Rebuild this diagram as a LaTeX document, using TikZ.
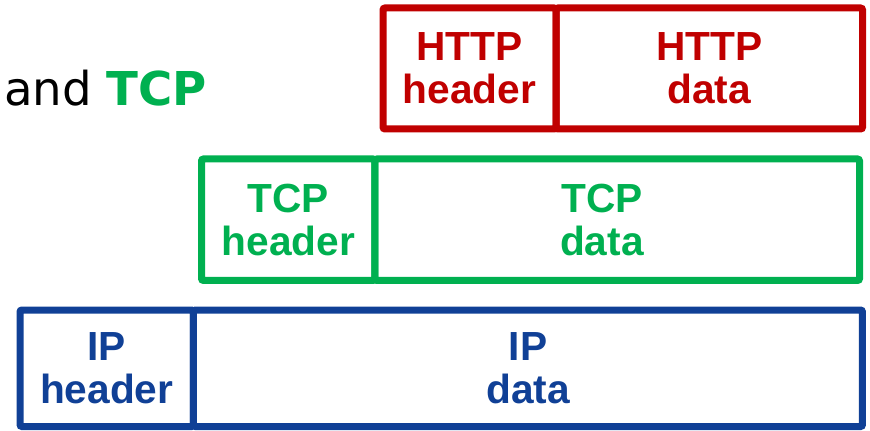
\documentclass[tikz,border=0pt]{standalone}
\usepackage{fontspec}
\setmainfont{Liberation Sans}
\newfontfamily\titlefont{DejaVu Sans}
\usetikzlibrary{positioning}
\definecolor{httpred}{RGB}{192,0,0}
\definecolor{tcpgreen}{RGB}{0,176,80}
\definecolor{ipblue}{RGB}{16,64,150}
\tikzset{
  cell/.style={draw, line width=5.25pt, rounded corners=1.5pt, outer sep=0pt, inner sep=0pt,
    align=center, font=\bfseries\fontsize{30.5}{32.5}\selectfont},
  celltext/.style={inner sep=0pt, align=center, font=\bfseries\fontsize{30.5}{32.5}\selectfont},
  httpcell/.style={cell, httpred, minimum height=90.75pt},
  tcpcell/.style={cell, tcpgreen, minimum height=91.1pt},
  ipcell/.style={cell, ipblue, minimum height=87.4pt}
}
\begin{document}
\begin{tikzpicture}[x=0.75pt, y=-0.75pt]
\useasboundingbox (0,0) rectangle (870,431);
\node[anchor=base west, inner sep=0pt, font=\titlefont\fontsize{35}{40}\selectfont] (title) at (4,106) {and \textcolor{tcpgreen}{\bfseries TCP}};
% HTTP
\node[httpcell, anchor=north west, minimum width=129.75pt] (httphdr) at (383,8) {HTTP\\header};
\node[httpcell, right=0pt of httphdr, minimum width=229.9pt] (httpdata) {HTTP\\data};
% TCP
\node[tcpcell, anchor=north west, minimum width=130.1pt] (tcphdr) at (201.5,159) {TCP\\header};
\node[tcpcell, right=0pt of tcphdr, minimum width=363.4pt] (tcpdata) {};
\node[celltext, tcpgreen] (tcpdatatext) at ([xshift=-11.5pt]tcpdata.center) {TCP\\data};
% IP
\node[ipcell, anchor=north west, minimum width=130.1pt] (iphdr) at (20,310) {IP\\header};
\node[ipcell, right=0pt of iphdr, minimum width=501.75pt] (ipdata) {IP\\data};
\end{tikzpicture}
\end{document}
